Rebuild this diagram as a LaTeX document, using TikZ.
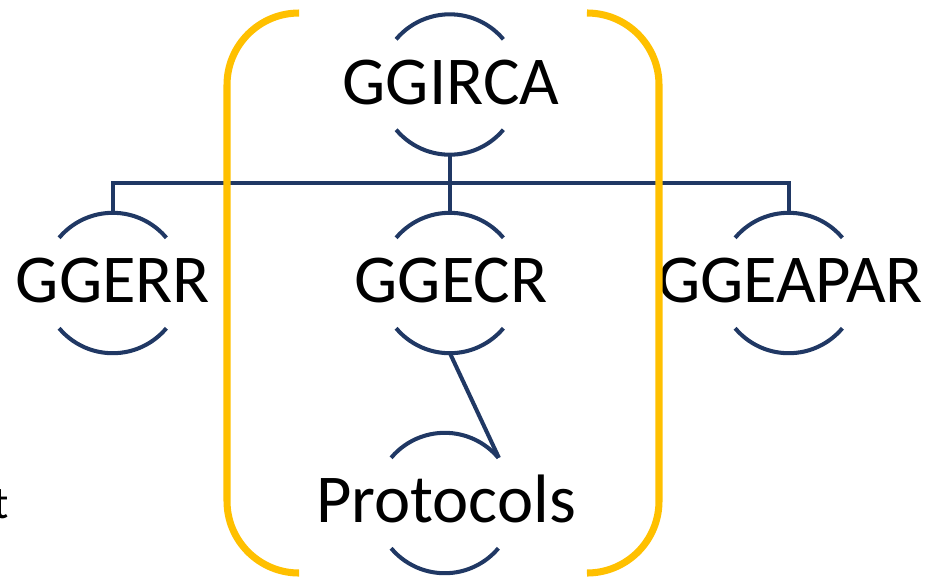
\documentclass[tikz,border=0pt]{standalone}
\usepackage{fontspec}
\setmainfont{Carlito}
\definecolor{ggblue}{HTML}{203864}
\definecolor{ggyellow}{HTML}{FFC000}
\tikzset{
  ring/.style={circle, minimum size=2.8cm, inner sep=0pt},
  lbl/.style={font=\fontsize{39}{39}\selectfont, inner sep=0pt, anchor=base},
  arcline/.style={draw=ggblue, line width=2.3pt},
  bracket/.style={draw=ggyellow, line width=4pt, rounded corners=1.44cm},
}
\begin{document}
\begin{tikzpicture}[x=0.02cm,y=-0.02cm]
      \useasboundingbox (0,0) rectangle (935,576);

      \node[ring](irca) at (450,84.5) {};
      \node[ring](err) at (113,283) {};
      \node[ring](ecr) at (450,283) {};
      \node[ring](eapar) at (789,283) {};
      \node[ring](prot) at (445,503) {};

      \node[lbl](irca-txt) at (451,104) {GGIRCA};
      \node[lbl](err-txt) at (113,302) {GGERR};
      \node[lbl](ecr-txt) at (451,302) {GGECR};
      \node[lbl](eapar-txt) at (790,302) {GGEAPAR};
      \node[lbl](prot-txt) at (446,522) {Protocols};
      \node[font=\fontsize{26}{26}\selectfont, inner sep=0pt, anchor=base east](cut) at (9,518) {t};

      \foreach \n in {irca,err,ecr,eapar,prot} {
        \draw[arcline] (\n.140) arc (140:40:1.4cm);
        \draw[arcline] (\n.220) arc (220:320:1.4cm);
      }

      \coordinate (bus) at (450,183);
      \draw[arcline] (irca.south) -- (bus);
      \draw[arcline] (err.north) |- (bus) -| (eapar.north);
      \draw[arcline] (bus) -- (ecr.north);
      \draw[arcline] (ecr.south) -- (prot.40);

      \draw[bracket] (299,13) -| (227,290) |- (299,573);
      \draw[bracket] (588,13) -| (659,290) |- (588,573);
    \end{tikzpicture}
\end{document}
